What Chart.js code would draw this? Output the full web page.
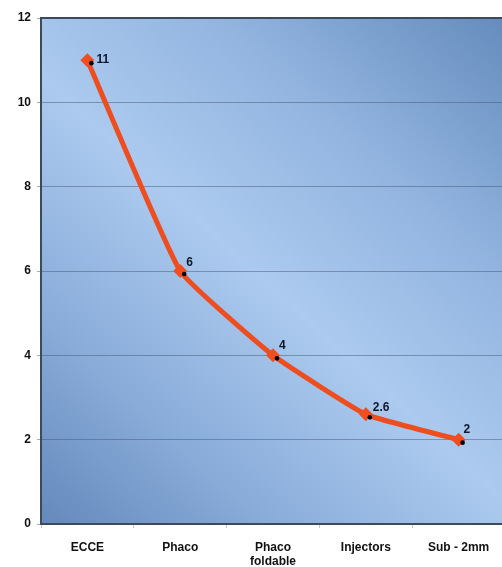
<!DOCTYPE html>
<html>
<head>
<meta charset="utf-8">
<script src="https://cdn.jsdelivr.net/npm/chart.js@4"></script>
<style>
html,body{margin:0;padding:0;background:#fff;overflow:hidden;}
#wrap{width:520px;height:567px;position:relative;overflow:hidden;}
</style>
</head>
<body>
<div id="wrap"><canvas id="c" width="512" height="567"></canvas></div>
<script>
const categories = [["ECCE"], ["Phaco"], ["Phaco", "foldable"], ["Injectors"], ["Sub - 2mm"]];
const values = [11, 6, 4, 2.6, 2];
const valueLabels = ["11", "6", "4", "2.6", "2"];
const yTicks = [0, 2, 4, 6, 8, 10, 12];

const labelOffsets = [[9, 0], [6, -8], [6, -10], [7, -7], [5, -10]];
const FONT = '"Liberation Sans", Arial, sans-serif';

const bgPlugin = {
  id: 'bg',
  beforeDraw(chart) {
    const {ctx, chartArea: a} = chart;
    ctx.save();
    const g = ctx.createLinearGradient(a.left, a.bottom, a.right, a.top);
    g.addColorStop(0, '#6489bb');
    g.addColorStop(0.22, '#88abd8');
    g.addColorStop(0.48, '#accaef');
    g.addColorStop(0.72, '#92b4df');
    g.addColorStop(1, '#658cbd');
    ctx.fillStyle = g;
    ctx.fillRect(a.left, a.top, a.right - a.left, a.bottom - a.top);
    ctx.restore();
  },
  afterDraw(chart) {
    const {ctx, chartArea: a} = chart;
    ctx.save();
    ctx.strokeStyle = '#3c4a5a';
    ctx.lineWidth = 2;
    ctx.beginPath();
    ctx.moveTo(a.left, a.top);
    ctx.lineTo(a.right, a.top);
    ctx.stroke();
    ctx.restore();
  },
  afterDatasetsDraw(chart) {
    const {ctx} = chart;
    const meta = chart.getDatasetMeta(0);
    ctx.save();
    meta.data.forEach((pt, i) => {
      ctx.fillStyle = '#000';
      ctx.beginPath();
      ctx.arc(pt.x + 4, pt.y + 3, 2.3, 0, Math.PI * 2);
      ctx.fill();
      ctx.fillStyle = '#101828';
      ctx.font = 'bold 12px ' + FONT;
      ctx.textAlign = 'left';
      ctx.textBaseline = 'middle';
      const o = labelOffsets[i];
      ctx.fillText(valueLabels[i], pt.x + o[0], pt.y + o[1]);
    });
    ctx.restore();
  }
};

new Chart(document.getElementById('c'), {
  type: 'line',
  data: {
    labels: categories,
    datasets: [{
      data: values,
      borderColor: '#ee4d1f',
      backgroundColor: '#ee4d1f',
      borderWidth: 5,
      pointStyle: 'rectRot',
      pointRadius: 7,
      pointBorderWidth: 0,
      pointBackgroundColor: '#f04e1e',
      tension: 0.12,
      fill: false
    }]
  },
  options: {
    responsive: false,
    animation: false,
    layout: {padding: {top: 18, right: 0, left: 0, bottom: 0}},
    plugins: {legend: {display: false}, tooltip: {enabled: false}},
    scales: {
      x: {
        offset: true,
        grid: {display: true, offset: true, drawOnChartArea: false, drawTicks: true, tickLength: 4, color: '#c8c8c8'},
        border: {display: true, color: '#3c4a5a', width: 2},
        ticks: {
          color: '#111',
          font: {family: FONT, size: 12, weight: 'bold', lineHeight: 1.2},
          padding: 12,
          maxRotation: 0,
          autoSkip: false
        },
        afterFit(s) { s.height = 43; s.paddingRight = 0; s.paddingLeft = 0; }
      },
      y: {
        min: 0, max: 12,
        afterBuildTicks(s) { s.ticks = yTicks.map(v => ({value: v})); },
        grid: {color: 'rgba(70,90,115,0.5)', lineWidth: 1, drawTicks: true, tickLength: 4},
        border: {display: true, color: '#3c4a5a', width: 2},
        ticks: {
          color: '#111',
          font: {family: FONT, size: 12, weight: 'bold'},
          padding: 6
        },
        afterFit(s) { s.width = 41; }
      }
    }
  },
  plugins: [bgPlugin]
});
</script>
</body>
</html>
